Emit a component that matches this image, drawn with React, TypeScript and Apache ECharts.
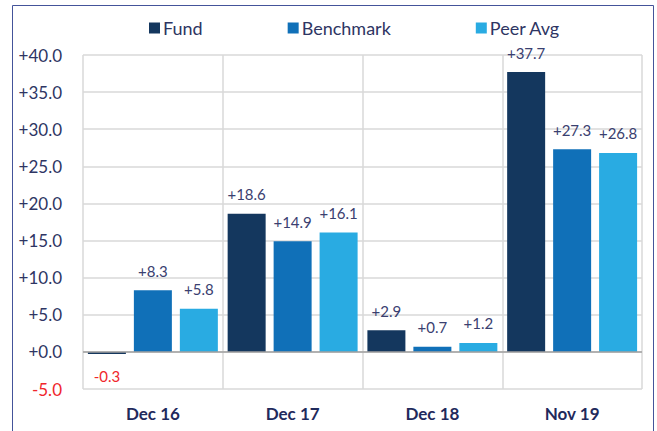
import React, { useEffect, useRef } from "react";
import * as echarts from "echarts";

const categories = ["Dec 16", "Dec 17", "Dec 18", "Nov 19"];
const seriesNames = ["Fund", "Benchmark", "Peer Avg"];
const fundValues = [-0.3, 18.6, 2.9, 37.7];
const benchmarkValues = [8.3, 14.9, 0.7, 27.3];
const peerValues = [5.8, 16.1, 1.2, 26.8];
const seriesColors = ["#14375E", "#1070B8", "#29ABE2"];

const FONT = "Lato, 'Noto Sans', sans-serif";
const NAVY = "#2E3563";
const RED = "#F0262B";

const fmt = (v: number) => (v >= 0 ? "+" : "") + v.toFixed(1);

export default function App() {
  const ref = useRef<HTMLDivElement>(null);
  useEffect(() => {
    if (!ref.current) return;
    const chart = echarts.init(ref.current, undefined, { renderer: "svg" });
    const allValues = [fundValues, benchmarkValues, peerValues];
    const series: any[] = allValues.map((vals, i) => ({
      name: seriesNames[i],
      type: "bar",
      barWidth: 38,
      barGap: "21%",
      itemStyle: { color: seriesColors[i] },
      label: {
        show: true,
        position: "top",
        distance: 12,
        fontFamily: FONT,
        fontSize: 15,
        color: "#3A4070",
        formatter: (p: any) => fmt(p.value),
      },
      data: vals.map((v) =>
        v < 0
          ? {
              value: v,
              label: { position: "bottom", distance: 14, color: RED },
            }
          : v
      ),
    }));
    series[0].markLine = {
      silent: true,
      symbol: "none",
      label: { show: false },
      lineStyle: { color: "#A0A0A0", width: 1.5, type: "solid" },
      data: [{ yAxis: 0 }],
    };
    chart.setOption({
      animation: false,
      backgroundColor: "#ffffff",
      textStyle: { fontFamily: FONT },
      graphic: [
        {
          type: "rect",
          shape: { x: 12.5, y: 5.5, width: 641, height: 460 },
          style: { fill: "none", stroke: "#44549A", lineWidth: 1 },
          silent: true,
        },
      ],
      legend: {
        top: 19,
        left: 149,
        padding: 0,
        itemWidth: 11,
        itemHeight: 11,
        itemGap: 85,
        icon: "rect",
        textStyle: { fontFamily: FONT, fontSize: 18, color: NAVY, padding: [0, 0, 0, -2] },
        data: seriesNames,
      },
      grid: { left: 83, top: 55, right: 15, bottom: 42 },
      xAxis: {
        type: "category",
        data: categories,
        axisLine: { show: false, onZero: false },
        axisTick: { show: false },
        splitLine: { show: true, lineStyle: { color: "#D9D9D9", width: 1.5 } },
        axisLabel: {
          margin: 16,
          fontFamily: FONT,
          fontSize: 17,
          fontWeight: "bold",
          color: "#1F2A5C",
        },
      },
      yAxis: {
        type: "value",
        min: -5,
        max: 40,
        interval: 5,
        axisLine: { show: false },
        axisTick: { show: false },
        splitLine: { lineStyle: { color: "#D9D9D9", width: 1.5 } },
        axisLabel: {
          margin: 21,
          fontFamily: FONT,
          fontSize: 17,
          color: (v: any) => (Number(v) < 0 ? RED : NAVY),
          formatter: (v: number) => fmt(v),
        },
      },
      series,
    });
    return () => chart.dispose();
  }, []);
  return (
    <div
      ref={ref}
      style={{ position: "fixed", left: 0, top: 0, width: 657, height: 431 }}
    />
  );
}
